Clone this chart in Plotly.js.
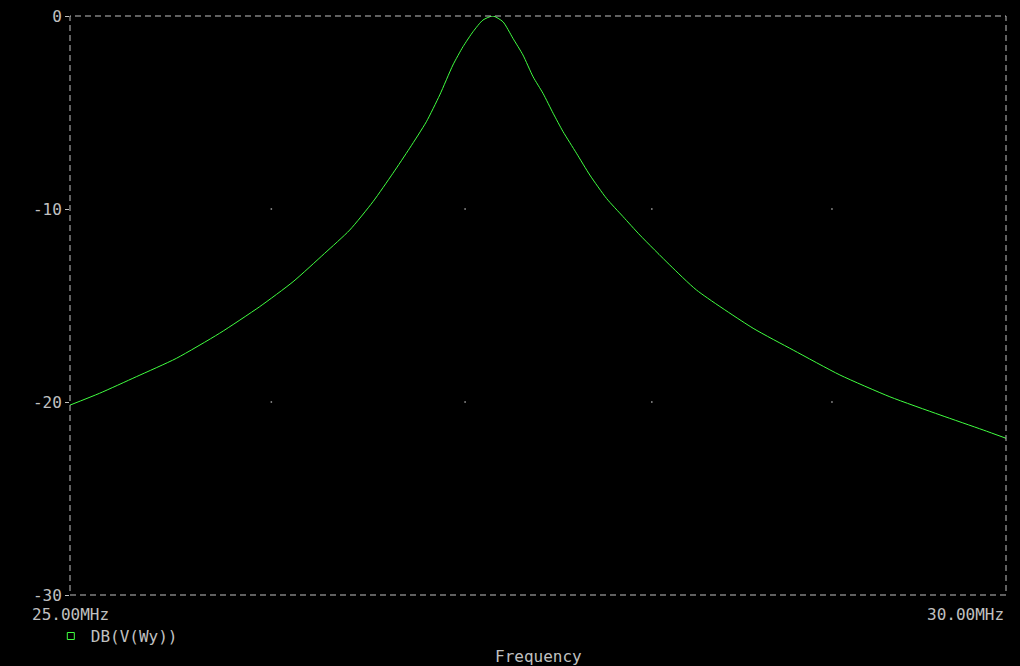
<!DOCTYPE html>
<html>
<head>
<meta charset="utf-8">
<script src="https://cdn.plot.ly/plotly-3.0.1.min.js"></script>
<style>html,body{margin:0;padding:0;background:#000;}#chart{width:1020px;height:666px;}</style>
</head>
<body>
<div id="chart"></div>
<script>
// Frequency in MHz (log axis) and response in dB
var freqMHz = [25.00, 25.144, 25.325, 25.523, 25.739, 25.941, 26.110, 26.271, 26.400, 26.520,
  26.623, 26.710, 26.797, 26.867, 26.936, 26.989, 27.042, 27.094, 27.147, 27.200,
  27.253, 27.306, 27.360, 27.413, 27.467, 27.520, 27.592, 27.664, 27.754, 27.844,
  27.935, 28.098, 28.245, 28.558, 28.782, 29.045, 29.329, 29.617, 29.867, 30.00];
var dbVWy = [-20.16, -19.55, -18.69, -17.74, -16.44, -15.06, -13.77, -12.30, -11.09, -9.62,
  -8.15, -6.85, -5.48, -4.09, -2.54, -1.59, -0.81, -0.21, 0.00, -0.30,
  -1.16, -2.02, -3.15, -4.01, -5.04, -5.99, -7.11, -8.24, -9.45, -10.40,
  -11.35, -12.90, -14.20, -16.18, -17.31, -18.60, -19.73, -20.67, -21.45, -21.88];
var seriesName = 'DB(V(Wy))';
var yTickVals = [0, -10, -20, -30];
var yTickText = ['0', '-10', '-20', '-30'];
var xMinLabel = '25.00MHz';
var xMaxLabel = '30.00MHz';
var xRangeMHz = [25, 30];
var gridFreqs = [26, 27, 28, 29];
var gridDb = [-10, -20];
var xTitle = 'Frequency';

var FG = '#c0c0c0';
var GREEN = '#40ff40';
var FONT = 'DejaVu Sans Mono, Liberation Mono, monospace';

var gx = [], gy = [];
gridFreqs.forEach(function (f) { gridDb.forEach(function (d) { gx.push(f); gy.push(d); }); });

var traces = [
  { x: gx, y: gy, mode: 'markers', type: 'scatter', hoverinfo: 'skip', showlegend: false,
    marker: { color: '#a0a0a0', size: 1.5, symbol: 'square', line: { width: 0 } } },
  { x: freqMHz, y: dbVWy, mode: 'lines', type: 'scatter', showlegend: false,
    line: { color: GREEN, width: 1, shape: 'spline', smoothing: 0.6 } },
  { x: [null], y: [null], mode: 'markers', type: 'scatter', name: seriesName, showlegend: true,
    marker: { symbol: 'square-open', size: 7, color: GREEN, line: { width: 1, color: GREEN } } }
];

var layout = {
  width: 1020, height: 666,
  paper_bgcolor: '#000', plot_bgcolor: '#000',
  margin: { l: 70, r: 14, t: 16, b: 71, pad: 0 },
  font: { family: FONT, size: 16, color: FG },
  xaxis: { type: 'log', range: [Math.log10(xRangeMHz[0]), Math.log10(xRangeMHz[1])],
    showgrid: false, zeroline: false, showticklabels: false, ticks: '', showline: false },
  yaxis: { range: [-30, 0], tickvals: yTickVals, ticktext: yTickText, ticks: 'outside', ticklen: 4,
    tickcolor: FG, tickwidth: 1, showgrid: false, zeroline: false, showline: false,
    tickfont: { family: FONT, size: 16, color: FG } },
  showlegend: true,
  legend: { x: -0.0205, xanchor: 'left', y: -0.071, yanchor: 'middle', orientation: 'h',
    bgcolor: 'rgba(0,0,0,0)', borderwidth: 0, font: { family: FONT, size: 16, color: FG } },
  shapes: [
    { type: 'rect', xref: 'paper', yref: 'paper', x0: 0, x1: 1, y0: 0, y1: 1,
      line: { color: FG, width: 1, dash: '6px,4px' } }
  ],
  annotations: [
    { text: xMinLabel, xref: 'paper', yref: 'paper', x: 0, y: -0.0345, xanchor: 'center', yanchor: 'middle',
      showarrow: false, font: { family: FONT, size: 16, color: FG } },
    { text: xMaxLabel, xref: 'paper', yref: 'paper', x: 1, y: -0.0345, xanchor: 'right', yanchor: 'middle',
      showarrow: false, font: { family: FONT, size: 16, color: FG } },
    { text: xTitle, xref: 'paper', yref: 'paper', x: 0.5006, y: -0.1054, xanchor: 'center', yanchor: 'middle',
      showarrow: false, font: { family: FONT, size: 16, color: FG } }
  ]
};

Plotly.newPlot('chart', traces, layout, { displayModeBar: false, staticPlot: true });
</script>
</body>
</html>
